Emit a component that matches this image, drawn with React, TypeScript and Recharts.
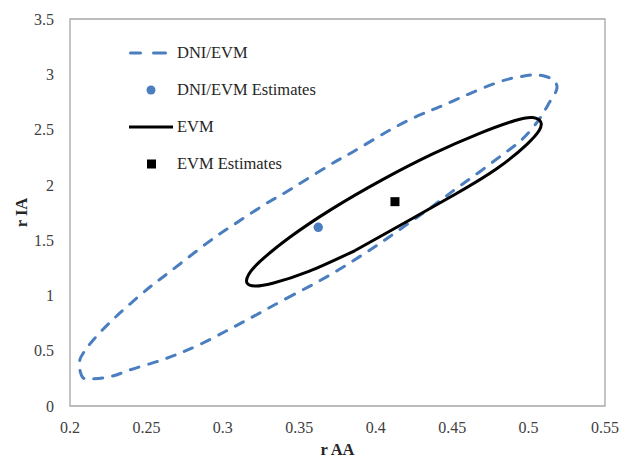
import { ScatterChart, Scatter, XAxis, YAxis, ReferenceArea } from "recharts";

// outline of the DNI/EVM confidence region
const dniEvmRegion = [
  [0.3417, 0.974], [0.37, 1.185], [0.3962, 1.411], [0.4137, 1.576], [0.4398, 1.833],
  [0.4529, 1.969], [0.4681, 2.119], [0.4856, 2.3], [0.4965, 2.421], [0.5074, 2.602],
  [0.5139, 2.752], [0.5183, 2.858], [0.5172, 2.933], [0.5113, 2.98], [0.503, 2.994],
  [0.4943, 2.978], [0.4812, 2.933], [0.4594, 2.813], [0.442, 2.707], [0.4289, 2.632],
  [0.4093, 2.496], [0.3853, 2.3], [0.37, 2.18], [0.3417, 1.938], [0.3286, 1.833],
  [0.3068, 1.637], [0.2894, 1.471], [0.2654, 1.215], [0.2523, 1.076], [0.2392, 0.922],
  [0.2262, 0.757], [0.2152, 0.597], [0.2087, 0.479], [0.2061, 0.386], [0.2077, 0.271],
  [0.2131, 0.244], [0.2262, 0.265], [0.2392, 0.326], [0.2567, 0.401], [0.2719, 0.477],
  [0.287, 0.57], [0.3025, 0.681], [0.3177, 0.793], [0.3417, 0.974],
].map(([x, y]) => ({ x, y }));

// outline of the EVM confidence region
const evmRegion = [
  [0.3865, 1.406], [0.3562, 1.217], [0.3326, 1.11], [0.3211, 1.085], [0.3158, 1.113],
  [0.3169, 1.19], [0.3247, 1.312], [0.344, 1.528], [0.3715, 1.783], [0.4039, 2.043],
  [0.4373, 2.28], [0.4676, 2.464], [0.4912, 2.582], [0.5027, 2.609], [0.508, 2.568],
  [0.5069, 2.491], [0.4991, 2.369], [0.4798, 2.152], [0.4523, 1.917], [0.4199, 1.664],
  [0.3865, 1.406],
].map(([x, y]) => ({ x, y }));

const dniEvmEstimate = [{ x: 0.3624, y: 1.616 }];
const evmEstimate = [{ x: 0.4126, y: 1.848 }];

const xTicks = [0.2, 0.25, 0.3, 0.35, 0.4, 0.45, 0.5, 0.55];
const yTicks = [0, 0.5, 1, 1.5, 2, 2.5, 3, 3.5];

const BLUE = "#4a7ebf";
const FONT = "'Liberation Serif', 'Times New Roman', serif";
const tickStyle = { fontFamily: FONT, fontSize: 16, fill: "#404040" };

function LegendBox() {
  const rows = [
    {
      label: "DNI/EVM",
      icon: (
        <g stroke={BLUE} strokeWidth={3} strokeLinecap="round">
          <line x1={2.5} y1={10} x2={12.5} y2={10} />
          <line x1={25.5} y1={10} x2={37.5} y2={10} />
        </g>
      ),
    },
    { label: "DNI/EVM Estimates", icon: <circle cx={23} cy={10} r={4.5} fill={BLUE} /> },
    { label: "EVM", icon: <line x1={1} y1={10} x2={45} y2={10} stroke="#000" strokeWidth={3} /> },
    { label: "EVM Estimates", icon: <rect x={19} y={5.5} width={9} height={9} fill="#000" /> },
  ];
  return (
    <div
      style={{
        position: "absolute",
        left: 128,
        top: 34,
        fontFamily: FONT,
        fontSize: 16.5,
        color: "#262626",
        whiteSpace: "nowrap",
      }}
    >
      {rows.map((r) => (
        <div key={r.label} style={{ height: 37.2, display: "flex", alignItems: "center" }}>
          <svg width={49} height={20} style={{ display: "block" }}>
            {r.icon}
          </svg>
          <span>{r.label}</span>
        </div>
      ))}
    </div>
  );
}

const noDot = () => <g />;

export default function App() {
  return (
    <div style={{ position: "absolute", left: 0, top: 0, width: 623, height: 459 }}>
      <ScatterChart width={623} height={459} margin={{ top: 19, right: 18, bottom: 0, left: 0 }}>
        <XAxis
          type="number"
          dataKey="x"
          domain={[0.2, 0.55]}
          ticks={xTicks}
          axisLine={false}
          tickLine={false}
          tickMargin={10}
          height={53}
          tick={tickStyle}
          allowDataOverflow
          label={(props: any) => {
            const vb = props.viewBox;
            return (
              <text
                x={vb.x + vb.width / 2}
                y={vb.y + 49}
                textAnchor="middle"
                style={{ fontFamily: FONT, fontSize: 16.5, fontWeight: "bold", fill: "#262626" }}
              >
                r AA
              </text>
            );
          }}
        />
        <YAxis
          type="number"
          dataKey="y"
          domain={[0, 3.5]}
          ticks={yTicks}
          axisLine={false}
          tickLine={false}
          tickMargin={10}
          width={70}
          tick={tickStyle}
          allowDataOverflow
          label={(props: any) => {
            const vb = props.viewBox;
            const cx = vb.x + 21;
            const cy = vb.y + vb.height / 2;
            return (
              <text
                x={cx}
                y={cy}
                transform={`rotate(-90 ${cx} ${cy})`}
                textAnchor="middle"
                dominantBaseline="central"
                style={{ fontFamily: FONT, fontSize: 16.5, fontWeight: "bold", fill: "#262626" }}
              >
                r IA
              </text>
            );
          }}
        />
        <ReferenceArea x1={0.2} x2={0.55} y1={0} y2={3.5} fill="none" stroke="#a6a6a6" strokeWidth={1.3} />
        <Scatter
          name="DNI/EVM"
          data={dniEvmRegion}
          fill={BLUE}
          shape={noDot}
          line={{ stroke: BLUE, strokeWidth: 3, strokeDasharray: "9 10", strokeLinecap: "round" }}
          lineJointType="natural"
          isAnimationActive={false}
        />
        <Scatter
          name="EVM"
          data={evmRegion}
          fill="#000"
          shape={noDot}
          line={{ stroke: "#000", strokeWidth: 3 }}
          lineJointType="natural"
          isAnimationActive={false}
        />
        <Scatter
          name="DNI/EVM Estimates"
          data={dniEvmEstimate}
          fill={BLUE}
          shape={(p: any) => <circle cx={p.cx} cy={p.cy} r={4.7} fill={BLUE} />}
          isAnimationActive={false}
        />
        <Scatter
          name="EVM Estimates"
          data={evmEstimate}
          fill="#000"
          shape={(p: any) => <rect x={p.cx - 4.5} y={p.cy - 4.5} width={9} height={9} fill="#000" />}
          isAnimationActive={false}
        />
      </ScatterChart>
      <LegendBox />
    </div>
  );
}
